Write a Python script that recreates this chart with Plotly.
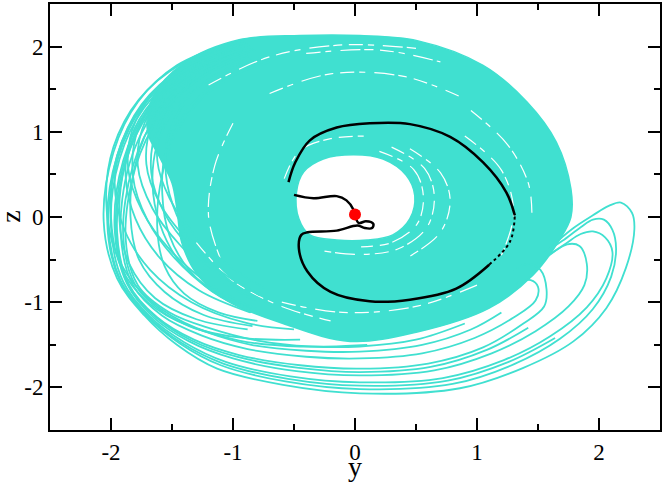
import plotly.graph_objects as go

# colours
TURQ = "#40E0D0"

# axis ticks
tick_vals = [-2, -1, 0, 1, 2]
tick_text = ["-2", "-1", "0", "1", "2"]

# dense part of the attractor band (outer edge)
band_x = [-0.45, 0.04, 0.51, 1.05, 1.41, 1.65, 1.77, 1.77, 1.68, 1.46, 1.10, 0.51, -0.04,
          -0.59, -1.05, -1.30, -1.42, -1.46, -1.50, -1.60, -1.70, -1.66, -1.40, -0.95, -0.45]
band_y = [2.13, 2.13, 2.07, 1.78, 1.35, 0.88, 0.33, 0.00, -0.26, -0.68, -1.07, -1.35, -1.46,
          -1.25, -0.98, -0.66, -0.30, 0.10, 0.40, 0.70, 1.00, 1.40, 1.81, 2.08, 2.13]

# empty hole in the middle
hole_x = [-0.48, -0.42, -0.26, -0.01, 0.23, 0.42, 0.49, 0.45, 0.31, 0.10, -0.15, -0.37, -0.46, -0.48]
hole_y = [0.29, 0.53, 0.68, 0.73, 0.68, 0.49, 0.25, -0.02, -0.21, -0.27, -0.27, -0.21, -0.02, 0.29]

# thin white gaps between the strands of the band
gap1_x = [0.20, 0.48, 0.56, 0.51, 0.30, 0.05]
gap1_y = [0.77, 0.56, 0.25, -0.08, -0.30, -0.35]
gap2_x = [0.30, 0.57, 0.65, 0.59, 0.36, 0.05, -0.25]
gap2_y = [0.82, 0.57, 0.25, -0.12, -0.37, -0.44, -0.40]
gap3_x = [0.45, 0.70, 0.78, 0.70, 0.45]
gap3_y = [0.80, 0.52, 0.20, -0.18, -0.46]
gap4_x = [-0.58, -0.45, -0.20, 0.10]
gap4_y = [0.45, 0.78, 0.92, 0.95]
gap5_x = [-0.70, -0.20, 0.40, 0.85]
gap5_y = [1.45, 1.68, 1.65, 1.42]
gap6_x = [-0.40, 0.20, 0.70]
gap6_y = [1.92, 1.96, 1.82]
gap7_x = [0.95, 1.25, 1.42, 1.45]
gap7_y = [1.25, 0.85, 0.40, 0.05]
gap8_x = [-1.00, -1.15, -1.20, -1.10]
gap8_y = [1.10, 0.60, 0.00, -0.50]
gap9_x = [-0.60, -0.10, 0.50, 1.00]
gap9_y = [-1.00, -1.12, -1.05, -0.80]
gap10_x = [-1.30, -1.00, -0.60, -0.20]
gap10_y = [-0.30, -0.75, -1.05, -1.22]
gap11_x = [-1.20, -0.70, -0.10, 0.50]
gap11_y = [1.55, 1.88, 2.02, 1.98]
gap12_x = [0.90, 1.20, 1.30, 1.20]
gap12_y = [0.95, 0.55, 0.05, -0.45]

# loose loops on the left side
left_a_x = [-0.90, -1.42, -1.77, -1.98, -2.04, -1.96, -1.74, -1.40, -0.95, -0.45, 0.10]
left_a_y = [2.07, 1.80, 1.38, 0.82, 0.20, -0.42, -0.90, -1.24, -1.45, -1.52, -1.50]
left_b_x = [-0.90, -1.40, -1.74, -1.95, -2.00, -1.92, -1.70, -1.36, -0.92, -0.45]
left_b_y = [2.05, 1.76, 1.32, 0.72, 0.00, -0.58, -1.00, -1.28, -1.42, -1.44]
left_c_x = [-0.88, -1.38, -1.71, -1.91, -1.97, -1.89, -1.68, -1.34, -0.90, -0.50]
left_c_y = [2.03, 1.76, 1.36, 0.86, 0.40, -0.15, -0.62, -1.00, -1.24, -1.32]
left_d_x = [-0.86, -1.36, -1.69, -1.88, -1.93, -1.85, -1.64, -1.30, -0.88]
left_d_y = [2.00, 1.70, 1.26, 0.64, -0.05, -0.55, -0.95, -1.20, -1.32]
left_e_x = [-0.84, -1.33, -1.66, -1.84, -1.88, -1.80, -1.60, -1.28, -0.86]
left_e_y = [1.98, 1.74, 1.36, 0.92, 0.48, -0.02, -0.48, -0.86, -1.12]
left_f_x = [-0.82, -1.30, -1.62, -1.80, -1.84, -1.77, -1.56, -1.24, -0.84]
left_f_y = [1.96, 1.66, 1.22, 0.62, 0.00, -0.50, -0.88, -1.15, -1.28]
left_g_x = [-0.75, -1.20, -1.48, -1.62, -1.66, -1.60, -1.44, -1.16, -0.80]
left_g_y = [1.88, 1.62, 1.26, 0.86, 0.40, -0.08, -0.52, -0.86, -1.08]
left_h_x = [-0.72, -1.15, -1.44, -1.58, -1.62, -1.56, -1.40, -1.12, -0.80]
left_h_y = [1.84, 1.52, 1.06, 0.50, -0.15, -0.58, -0.90, -1.12, -1.22]
left_i_x = [-0.70, -1.12, -1.41, -1.55, -1.58, -1.52, -1.36, -1.10, -0.78]
left_i_y = [1.82, 1.58, 1.20, 0.78, 0.28, -0.22, -0.62, -0.94, -1.12]

# tilted loops crossing the left side, high left edge
tilt_a_x = [-1.00, -1.50, -1.80, -1.86, -1.74, -1.52, -1.22, -0.88]
tilt_a_y = [2.00, 1.66, 1.12, 0.58, 0.06, -0.38, -0.76, -1.04]
tilt_b_x = [-0.95, -1.44, -1.72, -1.78, -1.66, -1.44, -1.15, -0.82]
tilt_b_y = [1.98, 1.64, 1.12, 0.60, 0.10, -0.32, -0.70, -0.98]
tilt_c_x = [-0.92, -1.40, -1.66, -1.71, -1.60, -1.38, -1.10, -0.78]
tilt_c_y = [1.95, 1.60, 1.10, 0.62, 0.16, -0.26, -0.64, -0.92]
tilt_d_x = [-0.98, -1.48, -1.77, -1.82, -1.70, -1.48, -1.18, -0.85]
tilt_d_y = [1.97, 1.62, 1.06, 0.48, -0.04, -0.48, -0.86, -1.12]
tilt_e_x = [-0.90, -1.36, -1.62, -1.67, -1.56, -1.34, -1.06, -0.75]
tilt_e_y = [1.92, 1.56, 1.04, 0.52, 0.04, -0.38, -0.74, -1.00]
tilt_f_x = [-0.85, -1.30, -1.52, -1.55, -1.46, -1.28, -1.02, -0.72]
tilt_f_y = [1.88, 1.50, 1.00, 0.50, 0.02, -0.40, -0.76, -1.00]
tilt_g_x = [-0.88, -1.34, -1.58, -1.62, -1.52, -1.32, -1.04, -0.74]
tilt_g_y = [1.90, 1.56, 1.10, 0.66, 0.22, -0.20, -0.56, -0.84]

# loops sweeping under the band and out to the right
bot1_x = [-1.00, -1.46, -1.78, -1.98, -2.06, -1.95, -1.73, -1.46, -1.13, -0.59, 0.04, 0.86, 1.38,
          1.79, 2.06, 2.22, 2.29, 2.27, 2.18, 2.08, 1.95, 1.78, 1.60]
bot1_y = [2.05, 1.78, 1.35, 0.76, -0.05, -0.72, -1.15, -1.50, -1.78, -1.97, -2.07, -2.01, -1.77,
          -1.46, -1.07, -0.60, -0.14, 0.05, 0.17, 0.13, 0.02, -0.14, -0.36]
bot2_x = [-0.95, -1.42, -1.75, -1.95, -2.03, -1.93, -1.71, -1.43, -1.10, -0.57, 0.04, 0.80, 1.30,
          1.68, 1.95, 2.10, 2.14, 2.11, 2.04, 1.95, 1.85, 1.70, 1.55]
bot2_y = [2.03, 1.75, 1.32, 0.72, -0.08, -0.74, -1.16, -1.49, -1.74, -1.93, -2.02, -1.96, -1.73,
          -1.43, -1.08, -0.70, -0.37, -0.15, -0.03, -0.03, -0.12, -0.28, -0.42]
bot3_x = [-0.95, -1.40, -1.73, -1.93, -2.00, -1.90, -1.68, -1.40, -1.06, -0.53, 0.04, 0.72, 1.22,
          1.60, 1.90, 2.06, 2.11, 2.05, 1.95, 1.85, 1.72, 1.55]
bot3_y = [2.00, 1.72, 1.28, 0.68, -0.12, -0.76, -1.17, -1.47, -1.70, -1.87, -1.94, -1.89, -1.68,
          -1.40, -1.06, -0.72, -0.41, -0.24, -0.17, -0.20, -0.32, -0.48]
bot4_x = [-0.95, -1.38, -1.70, -1.90, -1.97, -1.87, -1.65, -1.36, -1.00, -0.48, 0.04, 0.65, 1.12,
          1.48, 1.75, 1.88, 1.90, 1.84, 1.74, 1.62, 1.50]
bot4_y = [1.98, 1.70, 1.26, 0.66, -0.15, -0.78, -1.18, -1.46, -1.66, -1.81, -1.86, -1.80, -1.60,
          -1.34, -1.05, -0.80, -0.55, -0.34, -0.32, -0.42, -0.55]
bot5_x = [-0.95, -1.36, -1.68, -1.88, -1.95, -1.85, -1.62, -1.32, -0.95, -0.45, 0.04, 0.60, 1.05,
          1.38, 1.55, 1.57, 1.52, 1.42, 1.30]
bot5_y = [1.96, 1.68, 1.24, 0.64, -0.18, -0.80, -1.18, -1.44, -1.62, -1.74, -1.78, -1.72, -1.53,
          -1.25, -1.05, -0.85, -0.62, -0.55, -0.62]
bot6_x = [-0.90, -1.33, -1.65, -1.85, -1.92, -1.82, -1.58, -1.26, -0.88, -0.40, 0.04, 0.55, 0.98,
          1.30, 1.48, 1.50, 1.44, 1.32]
bot6_y = [1.94, 1.66, 1.22, 0.62, -0.20, -0.80, -1.16, -1.39, -1.55, -1.64, -1.66, -1.60, -1.42,
          -1.18, -0.98, -0.82, -0.74, -0.78]
bot7_x = [-0.90, -1.30, -1.62, -1.82, -1.90, -1.80, -1.55, -1.22, -0.85, -0.40, 0.04, 0.55, 0.95, 1.20]
bot7_y = [1.92, 1.64, 1.20, 0.60, -0.22, -0.80, -1.14, -1.35, -1.50, -1.57, -1.58, -1.50, -1.32, -1.12]
bot8_x = [-0.90, -1.28, -1.60, -1.80, -1.88, -1.78, -1.52, -1.18, -0.80, -0.36, 0.04, 0.50, 0.90]
bot8_y = [1.90, 1.62, 1.18, 0.58, -0.25, -0.80, -1.12, -1.31, -1.45, -1.52, -1.52, -1.44, -1.25]
bot9_x = [-0.95, -1.41, -1.74, -1.94, -2.02, -1.92, -1.70, -1.42, -1.08, -0.55, 0.04, 0.76, 1.26, 1.64]
bot9_y = [2.02, 1.74, 1.30, 0.70, -0.10, -0.75, -1.16, -1.48, -1.72, -1.90, -1.98, -1.92, -1.70, -1.42]
bot10_x = [-0.92, -1.37, -1.69, -1.89, -1.96, -1.86, -1.63, -1.34, -0.97, -0.46, 0.04, 0.62, 1.08, 1.42]
bot10_y = [1.97, 1.69, 1.25, 0.65, -0.17, -0.79, -1.18, -1.45, -1.64, -1.77, -1.82, -1.76, -1.56, -1.30]

# black trajectory leaving the fixed point
traj_x = [-0.50, -0.34, -0.15, -0.07, -0.01, 0.00, 0.03, 0.09, 0.15, 0.14, 0.08, 0.02, -0.15, -0.39,
          -0.44, -0.46, -0.39, -0.20, 0.12, 0.45, 0.83, 1.10, 1.27, 1.31, 1.24, 1.05, 0.78, 0.45,
          0.12, -0.15, -0.37, -0.49, -0.545]
traj_y = [0.26, 0.22, 0.245, 0.195, 0.08, 0.02, -0.07, -0.05, -0.08, -0.13, -0.13, -0.10, -0.16, -0.18,
          -0.21, -0.37, -0.64, -0.88, -0.99, -0.97, -0.84, -0.56, -0.29, 0.02, 0.29, 0.64, 0.94, 1.09,
          1.10, 1.05, 0.90, 0.64, 0.41]

# fixed point
fixed_x = [0.0]
fixed_y = [0.03]

fig = go.Figure()

fig.add_trace(go.Scatter(x=band_x, y=band_y, mode="lines", fill="toself", fillcolor=TURQ,
                         line=dict(color=TURQ, width=1.5, shape="spline")))
fig.add_trace(go.Scatter(x=hole_x, y=hole_y, mode="lines", fill="toself", fillcolor="white",
                         line=dict(color=TURQ, width=1.5, shape="spline")))

gaps = [(gap1_x, gap1_y), (gap2_x, gap2_y), (gap3_x, gap3_y), (gap4_x, gap4_y),
        (gap5_x, gap5_y), (gap6_x, gap6_y), (gap7_x, gap7_y), (gap8_x, gap8_y),
        (gap9_x, gap9_y), (gap10_x, gap10_y), (gap11_x, gap11_y), (gap12_x, gap12_y)]
for gx, gy in gaps:
    fig.add_trace(go.Scatter(x=gx, y=gy, mode="lines",
                             line=dict(color="white", width=1.2, shape="spline",
                                       dash="14px,5px,6px,9px,20px,4px,9px,7px")))

curves = [(left_a_x, left_a_y), (left_b_x, left_b_y), (left_c_x, left_c_y),
          (left_d_x, left_d_y), (left_e_x, left_e_y), (left_f_x, left_f_y),
          (left_g_x, left_g_y), (left_h_x, left_h_y), (left_i_x, left_i_y),
          (tilt_a_x, tilt_a_y), (tilt_b_x, tilt_b_y), (tilt_c_x, tilt_c_y),
          (tilt_d_x, tilt_d_y), (tilt_e_x, tilt_e_y), (tilt_f_x, tilt_f_y),
          (tilt_g_x, tilt_g_y),
          (bot1_x, bot1_y), (bot2_x, bot2_y), (bot3_x, bot3_y), (bot4_x, bot4_y),
          (bot5_x, bot5_y), (bot6_x, bot6_y), (bot7_x, bot7_y), (bot8_x, bot8_y),
          (bot9_x, bot9_y), (bot10_x, bot10_y)]
for cx, cy in curves:
    fig.add_trace(go.Scatter(x=cx, y=cy, mode="lines",
                             line=dict(color=TURQ, width=1.8, shape="spline")))

# trajectory: solid, except the fast stretch on the right which shows as dots
fig.add_trace(go.Scatter(x=traj_x[:22], y=traj_y[:22], mode="lines",
                         line=dict(color="black", width=2.5, shape="spline")))
fig.add_trace(go.Scatter(x=traj_x[21:24], y=traj_y[21:24], mode="lines",
                         line=dict(color="black", width=2, dash="dot", shape="spline")))
fig.add_trace(go.Scatter(x=traj_x[23:], y=traj_y[23:], mode="lines",
                         line=dict(color="black", width=2.5, shape="spline")))
fig.add_trace(go.Scatter(x=fixed_x, y=fixed_y, mode="markers",
                         marker=dict(color="red", size=12)))

axis_style = dict(
    range=[-2.5, 2.5], tickvals=tick_vals, ticktext=tick_text,
    ticks="inside", ticklen=12, tickwidth=2, tickcolor="black",
    minor=dict(tick0=0, dtick=0.5, ticks="inside", ticklen=6, tickwidth=2, tickcolor="black"),
    showline=True, linewidth=2, linecolor="black", mirror="ticks",
    showgrid=False, zeroline=False,
    tickfont=dict(family="Liberation Serif", size=23, color="black"),
)

fig.update_layout(
    width=664, height=484,
    margin=dict(l=50, r=2, t=3, b=54),
    plot_bgcolor="white", paper_bgcolor="white",
    showlegend=False,
    xaxis=axis_style,
    yaxis=axis_style,
    annotations=[
        dict(text="y", x=0, y=-0.086, xref="x", yref="paper", showarrow=False,
             xanchor="center", yanchor="middle",
             font=dict(family="Liberation Serif", size=28, color="black")),
        dict(text="z", x=-0.066, y=0, xref="paper", yref="y", showarrow=False, textangle=-90,
             xanchor="center", yanchor="middle",
             font=dict(family="Liberation Serif", size=28, color="black")),
    ],
)

fig.write_html("out.html", config={"displayModeBar": False},
               post_script="document.body.style.margin='0';")
